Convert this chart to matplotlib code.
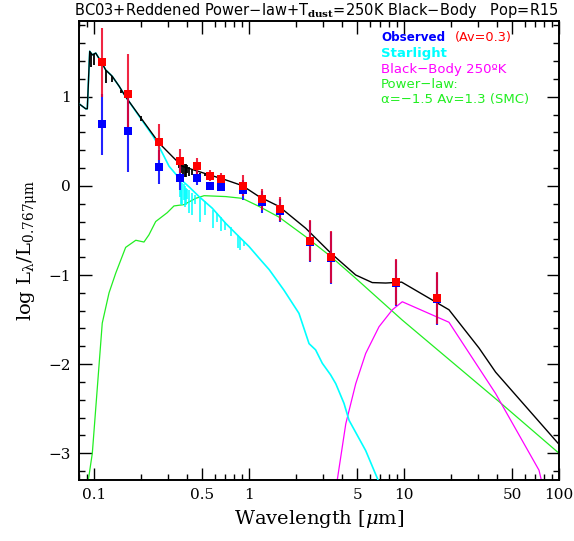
import numpy as np
import matplotlib
matplotlib.use("Agg")
import matplotlib.pyplot as plt
from matplotlib.ticker import FixedLocator, NullFormatter, FixedFormatter

# ---------------- data ----------------
# photometry (wavelength in micron, log L / L_0.767)
obs_wl = [0.112, 0.165, 0.263, 0.357, 0.46, 0.557, 0.663, 0.91, 1.21, 1.58, 2.46, 3.38, 8.84, 16.3]
red_y = [1.385, 1.03, 0.49, 0.28, 0.225, 0.116, 0.079, 0.003, -0.15, -0.26, -0.615, -0.80, -1.08, -1.26]
red_err = [0.39, 0.45, 0.20, 0.13, 0.09, 0.06, 0.07, 0.12, 0.12, 0.13, 0.23, 0.29, 0.26, 0.29]
blue_y = [0.69, 0.62, 0.21, 0.086, 0.086, 0.003, -0.007, -0.045, -0.18, -0.28, -0.625, -0.81, -1.09, -1.27]
blue_err = [0.34, 0.46, 0.19, 0.13, 0.08, 0.04, 0.05, 0.11, 0.12, 0.13, 0.23, 0.29, 0.26, 0.29]
# the last two blue points are hidden under red ones

# total model (black)
tot_wl = [0.0788, 0.0884, 0.0905, 0.0938, 0.0975, 0.1026, 0.1077, 0.112, 0.119, 0.131, 0.145, 0.160,
          0.205, 0.263, 0.320, 0.371, 0.476, 0.707, 0.905, 1.16, 1.56, 2.32, 3.38, 4.88, 6.24, 7.62,
          9.66, 19.5, 30.5, 39.0, 100.0]
tot_y = [0.93, 0.865, 0.865, 1.51, 1.47, 1.49, 1.43, 1.385, 1.30, 1.23, 1.12, 1.00,
         0.74, 0.48, 0.33, 0.22, 0.16, 0.067, 0.003, -0.12, -0.23, -0.475, -0.756, -1.00, -1.085, -1.09,
         -1.08, -1.39, -1.82, -2.09, -2.90]
# absorption features of the total model: wavelength, top, bottom
tot_line_wl = [0.0955, 0.1000, 0.119, 0.131, 0.150, 0.200, 0.355, 0.365, 0.375, 0.385, 0.393, 0.40,
               0.41, 0.43, 0.486, 0.52, 0.59, 0.66]
tot_line_top = [1.49, 1.48, 1.30, 1.23, 1.08, 0.78, 0.28, 0.27, 0.26, 0.25, 0.24, 0.23,
                0.21, 0.19, 0.15, 0.14, 0.10, 0.07]
tot_line_bot = [1.33, 1.36, 1.15, 1.17, 1.04, 0.73, 0.20, 0.15, 0.12, 0.10, 0.10, 0.14,
                0.11, 0.12, 0.13, 0.11, 0.07, 0.05]

# starlight (cyan)
star_wl = [0.0788, 0.0884, 0.0905, 0.0938, 0.0975, 0.1026, 0.1077, 0.112, 0.119, 0.131, 0.145, 0.160,
           0.205, 0.240, 0.263, 0.305, 0.353, 0.410, 0.476, 0.579, 0.707, 0.862, 1.0, 1.16, 1.35, 1.68,
           2.10, 2.44, 2.69, 2.97, 3.36, 3.63, 4.10, 4.42, 5.66, 6.80]
star_y = [0.93, 0.865, 0.865, 1.51, 1.47, 1.49, 1.43, 1.385, 1.30, 1.23, 1.12, 1.00,
          0.73, 0.56, 0.44, 0.22, 0.09, -0.01, -0.12, -0.25, -0.42, -0.57, -0.68, -0.81, -0.94, -1.17,
          -1.43, -1.77, -1.84, -1.99, -2.12, -2.22, -2.44, -2.63, -2.97, -3.30]
star_line_wl = [0.358, 0.365, 0.372, 0.378, 0.385, 0.393, 0.40, 0.41, 0.43, 0.45, 0.486, 0.52,
                0.59, 0.62, 0.66, 0.70, 0.76, 0.85, 0.88, 0.93]
star_line_top = [0.07, 0.04, 0.03, 0.02, 0.00, -0.02, -0.03, -0.05, -0.08, -0.10, -0.13, -0.17,
                 -0.27, -0.30, -0.35, -0.40, -0.46, -0.55, -0.58, -0.62]
star_line_bot = [-0.12, -0.20, -0.22, -0.16, -0.24, -0.21, -0.15, -0.30, -0.33, -0.20, -0.40, -0.33,
                 -0.47, -0.40, -0.51, -0.49, -0.56, -0.70, -0.72, -0.68]

# reddened power law (green)
pl_wl = [0.0919, 0.0975, 0.113, 0.125, 0.138, 0.160, 0.186, 0.210, 0.226, 0.250, 0.297, 0.328, 0.381,
         0.453, 0.513, 0.707, 0.905, 1.16, 1.56, 2.32, 3.38, 4.88, 9.75, 41.0, 100.0]
pl_y = [-3.30, -3.00, -1.54, -1.20, -0.98, -0.69, -0.61, -0.63, -0.55, -0.40, -0.30, -0.225, -0.21,
        -0.14, -0.11, -0.12, -0.14, -0.23, -0.35, -0.57, -0.794, -1.037, -1.506, -2.42, -3.00]

# 250 K black body (magenta)
bb_wl = [3.71, 4.21, 4.88, 5.66, 6.90, 8.41, 9.75, 19.5, 39.0, 74.3, 76.9]
bb_y = [-3.30, -2.67, -2.22, -1.88, -1.58, -1.39, -1.30, -1.53, -2.33, -3.19, -3.30]

xtick_vals = [0.1, 0.5, 1, 5, 10, 50, 100]
xtick_labels = ["0.1", "0.5", "1", "5", "10", "50", "100"]
ytick_vals = [-3, -2, -1, 0, 1]
ytick_labels = ["\u22123", "\u22122", "\u22121", "0", "1"]

# ---------------- figure ----------------
plt.rcParams['font.family'] = ['DejaVu Serif']
plt.rcParams['mathtext.fontset'] = 'dejavuserif'
fig = plt.figure(figsize=(5.74, 5.41), dpi=100)
ax = fig.add_axes([79/574, 61/541, (559-79)/574, (480-21)/541])

CYAN = '#00ffff'
GREEN = '#22ee22'
MAG = '#ff00ff'

ax.plot(pl_wl, pl_y, color=GREEN, lw=0.9, zorder=2)
ax.plot(bb_wl, bb_y, color=MAG, lw=0.9, zorder=2)
ax.plot(star_wl, star_y, color=CYAN, lw=1.2, zorder=3)
ax.vlines(star_line_wl, star_line_bot, star_line_top, color=CYAN, lw=1.1, zorder=3)
ax.plot(tot_wl, tot_y, color='black', lw=1.0, zorder=4)
ax.vlines(tot_line_wl, tot_line_bot, tot_line_top, color='black', lw=1.3, zorder=4)

# error bars and points
ax.errorbar(obs_wl, blue_y, yerr=blue_err, fmt='none', ecolor='#2222ff', elinewidth=1.5, zorder=5)
ax.errorbar(obs_wl, red_y, yerr=red_err, fmt='none', ecolor='#ee0022', elinewidth=1.5, alpha=0.85, zorder=6)
ax.plot(obs_wl, blue_y, 's', color='#0000ff', ms=5.5, mew=0, zorder=7)
ax.plot(obs_wl, red_y, 's', color='#ff0000', ms=5.5, mew=0, zorder=8)

ax.set_xscale('log')
ax.set_xlim(0.08, 100)
ax.set_ylim(-3.3, 1.85)

ax.xaxis.set_major_locator(FixedLocator(xtick_vals))
ax.xaxis.set_major_formatter(FixedFormatter(xtick_labels))
minor_x = [m * 10.0**e for e in range(-2, 2) for m in (2, 3, 4, 6, 7, 8, 9)]
minor_x = [v for v in minor_x if 0.08 <= v <= 100]
ax.xaxis.set_minor_locator(FixedLocator(minor_x))
ax.xaxis.set_minor_formatter(NullFormatter())
ax.yaxis.set_major_locator(FixedLocator(ytick_vals))
ax.yaxis.set_major_formatter(FixedFormatter(ytick_labels))
ax.yaxis.set_minor_locator(FixedLocator(np.arange(-3.2, 1.81, 0.2)))

ax.tick_params(which='both', direction='in', top=True, right=True, width=1.0)
ax.tick_params(which='major', length=9, labelsize=11, pad=6)
ax.tick_params(which='minor', length=4.5)
for s in ax.spines.values():
    s.set_linewidth(1.4)

ax.set_xlabel(r'Wavelength $[\mu$m$]$', fontsize=14, labelpad=4)
ax.set_ylabel(r'log $\mathregular{L_\lambda/L_{0.767\mu m}}$', fontsize=14, labelpad=6)

fig.text(79/574 - 0.008, 1 - 11/541,
         r'BC03+Reddened Power$-$law+T$_{\mathbf{dust}}$=250K Black$-$Body   Pop=R15',
         fontsize=10.5, family='DejaVu Sans', ha='left', va='center')

# legend block (baseline aligned)
tx = 381/574
sans = 'DejaVu Sans'
fig.text(tx, 1 - 41/541, 'Observed', color='#0000ff', fontsize=8.6, weight='bold', family=sans, va='baseline')
fig.text(455/574, 1 - 41/541, '(Av=0.3)', color='#ff0000', fontsize=9.3, family=sans, va='baseline')
fig.text(tx, 1 - 57/541, 'Starlight', color=CYAN, fontsize=9.5, weight='bold', family=sans, va='baseline')
fig.text(tx, 1 - 73/541, 'Black\u2212Body 250\u00baK', color=MAG, fontsize=9.5, family=sans, va='baseline')
fig.text(tx, 1 - 88/541, 'Power\u2212law:', color=GREEN, fontsize=9.5, family=sans, va='baseline')
fig.text(tx, 1 - 103/541, '\u03b1=\u22121.5 Av=1.3 (SMC)', color=GREEN, fontsize=9.5, family=sans, va='baseline')

fig.savefig('out.png', dpi=100)
